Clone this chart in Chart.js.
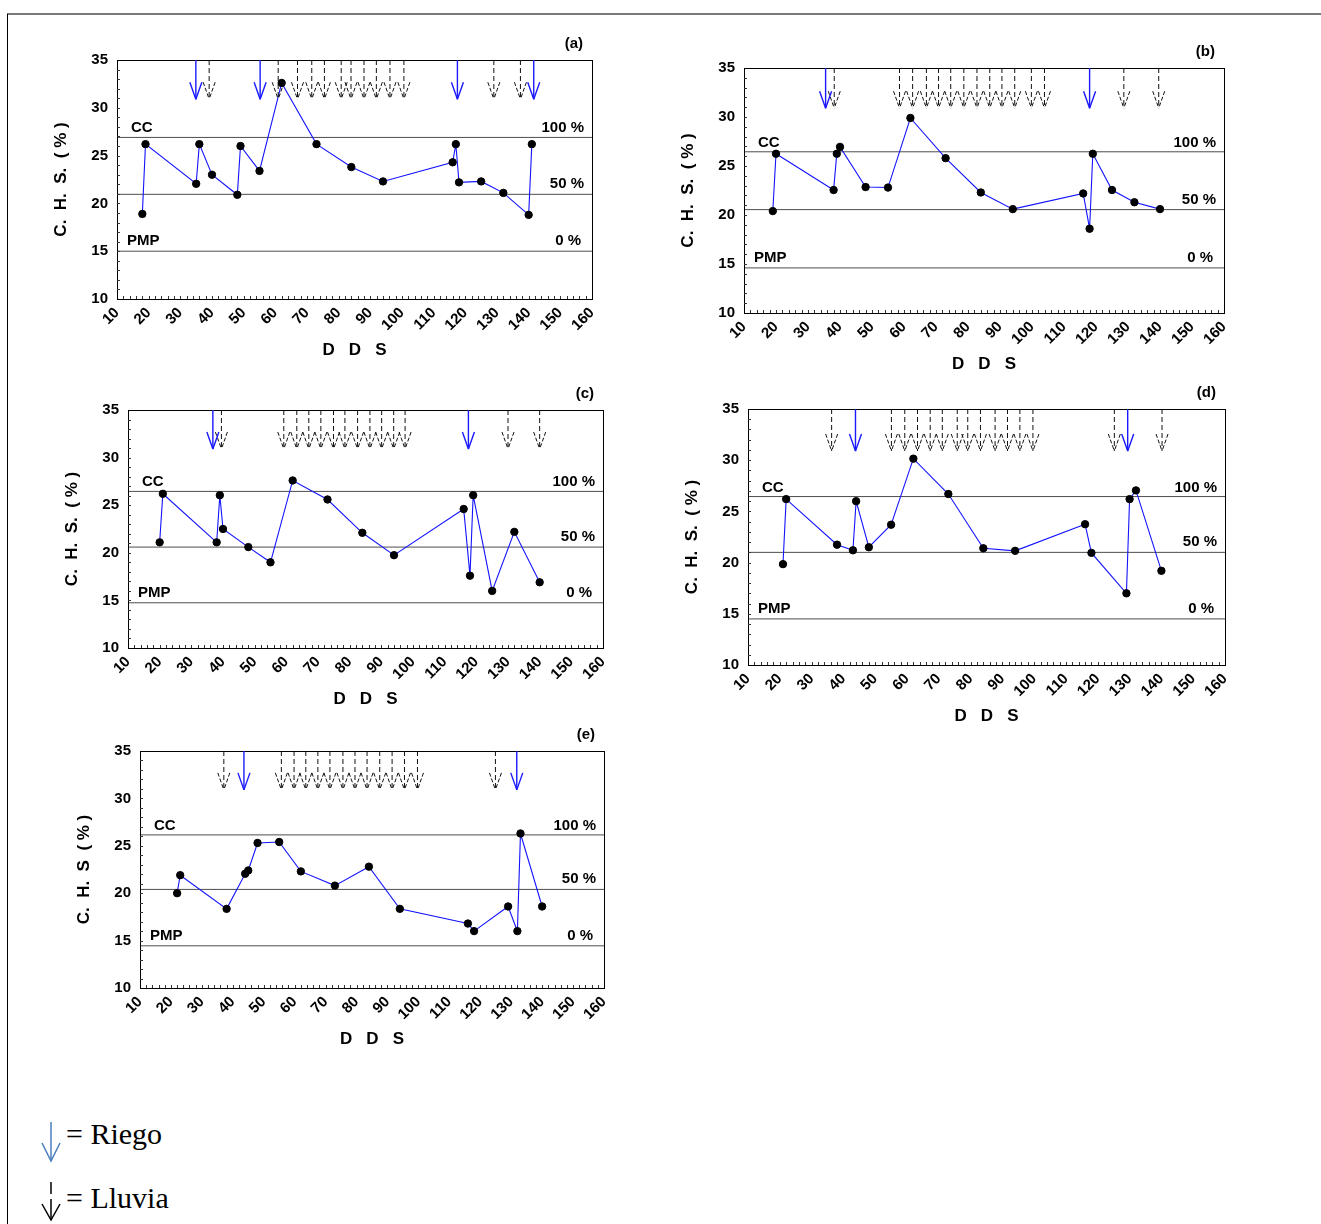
<!DOCTYPE html>
<html>
<head>
<meta charset="utf-8">
<title>C. H. S. (%)</title>
<script src="https://cdn.jsdelivr.net/npm/chart.js@4.4.1/dist/chart.umd.min.js"></script>
<style>
  body { margin: 0; background: #fff; }
  #page { position: relative; width: 1321px; height: 1224px; overflow: hidden; background: #fff; }
  #frameTop { position: absolute; left: 7px; top: 13px; width: 1314px; height: 2px; background: #7a7a7a; }
  #frameLeft { position: absolute; left: 7px; top: 14px; width: 1px; height: 1210px; background: #000; }
  canvas { position: absolute; }
  .key { position: absolute; left: 66px; font-family: "Liberation Serif", "Times New Roman", serif;
         font-size: 30px; line-height: 30px; color: #000; white-space: nowrap; }
  #keyArrows { position: absolute; left: 30px; top: 1110px; }
</style>
</head>
<body>
<div id="page">
  <div id="frameTop"></div>
  <div id="frameLeft"></div>
  <svg id="keyArrows" width="40" height="114">
    <g stroke="#4a7ebb" stroke-width="1.5" fill="none">
      <line x1="21" y1="12" x2="21" y2="51"/>
      <polyline points="12,33 21,51 30,33"/>
    </g>
    <g stroke="#000" stroke-width="1.5" fill="none">
      <line x1="21" y1="72" x2="21" y2="84"/>
      <line x1="21" y1="89" x2="21" y2="110"/>
      <polyline points="12,94 21,110 30,94"/>
    </g>
  </svg>
  <div class="key" style="top:1119px">= Riego</div>
  <div class="key" style="top:1183px">= Lluvia</div>
</div>
<script>
// axes
const xTickValues = [10, 20, 30, 40, 50, 60, 70, 80, 90, 100, 110, 120, 130, 140, 150, 160];
const yTickValues = [10, 15, 20, 25, 30, 35];

// (a)
const daysA = [18, 19, 35, 36, 40, 48, 49, 55, 62, 73, 84, 94, 116, 117, 118, 125, 132, 140, 141];
const chsA = [18.9, 26.2, 22.05, 26.2, 23.0, 20.9, 26.0, 23.4, 32.6, 26.2, 23.8, 22.3, 24.3, 26.2, 22.2, 22.3, 21.1, 18.8, 26.2];
const riegoA = [34.9, 55.2, 117.5, 141.6];
const lluviaA = [39.1, 60.9, 67.0, 71.5, 75.5, 80.8, 83.9, 88.0, 91.9, 96.2, 100.6, 129.0, 137.4];
const levelsA = [26.9, 20.95, 15.0];

// (b)
const daysB = [19, 20, 38, 39, 40, 48, 55, 62, 73, 84, 94, 116, 118, 119, 125, 132, 140];
const chsB = [20.4, 26.25, 22.55, 26.25, 26.95, 22.85, 22.8, 29.9, 25.8, 22.3, 20.6, 22.2, 18.6, 26.25, 22.55, 21.3, 20.6];
const riegoB = [35.5, 118.0];
const lluviaB = [38.2, 58.6, 62.7, 67.0, 70.8, 74.6, 78.7, 82.8, 86.8, 90.6, 94.6, 99.8, 103.9, 128.7, 139.6];
const levelsB = [26.45, 20.55, 14.6];

// (c)
const daysC = [20, 21, 38, 39, 40, 48, 55, 62, 73, 84, 94, 116, 118, 119, 125, 132, 140];
const chsC = [21.1, 26.2, 21.1, 26.05, 22.5, 20.6, 19.0, 27.6, 25.6, 22.1, 19.75, 24.6, 17.6, 26.05, 16.0, 22.2, 16.9];
const riegoC = [36.8, 117.5];
const lluviaC = [39.5, 59.2, 63.3, 67.1, 70.9, 74.9, 78.5, 82.5, 86.4, 90.1, 93.9, 97.5, 130.0, 140.0];
const levelsC = [26.45, 20.6, 14.75];

// (d)
const daysD = [21, 22, 38, 43, 44, 48, 55, 62, 73, 84, 94, 116, 118, 129, 130, 132, 140];
const chsD = [19.85, 26.2, 21.75, 21.2, 26.0, 21.5, 23.7, 30.15, 26.7, 21.4, 21.15, 23.75, 20.95, 17.0, 26.2, 27.05, 19.2];
const riegoD = [43.8, 129.4];
const lluviaD = [36.3, 55.1, 59.3, 63.3, 67.3, 71.1, 75.8, 79.1, 83.1, 87.7, 91.6, 95.5, 99.6, 125.2, 140.2];
const levelsD = [26.45, 21.0, 14.5];

// (e)
const daysE = [22, 23, 38, 44, 45, 48, 55, 62, 73, 84, 94, 116, 118, 129, 132, 133, 140];
const chsE = [20.0, 21.9, 18.35, 22.05, 22.4, 25.3, 25.4, 22.3, 20.8, 22.8, 18.35, 16.8, 16.0, 18.6, 16.0, 26.3, 18.6];
const riegoE = [43.6, 131.8];
const lluviaE = [37.1, 55.7, 59.8, 63.6, 67.5, 71.4, 75.6, 79.5, 83.4, 87.5, 91.5, 95.5, 99.7, 124.9];
const levelsE = [26.15, 20.4, 14.45];

const FONT = '"Liberation Sans", Arial, sans-serif';
const ML = 80, MT = 30, MR = 15, MB = 75;
const ARROW_TIP = 30.9;

const panels = [
  { tag: 'a', rect: [117, 60, 592, 299], days: daysA, chs: chsA, riego: riegoA, lluvia: lluviaA, levels: levelsA, ytitle: 'C.  H.  S.  ( % )' },
  { tag: 'b', rect: [744, 68, 1224, 313], days: daysB, chs: chsB, riego: riegoB, lluvia: lluviaB, levels: levelsB, ytitle: 'C.  H.  S.  ( % )' },
  { tag: 'c', rect: [128, 410, 603, 648], days: daysC, chs: chsC, riego: riegoC, lluvia: lluviaC, levels: levelsC, ytitle: 'C.  H.  S.  ( % )' },
  { tag: 'd', rect: [748, 409, 1225, 665], days: daysD, chs: chsD, riego: riegoD, lluvia: lluviaD, levels: levelsD, ytitle: 'C.  H.  S.  ( % )' },
  { tag: 'e', rect: [140, 751, 604, 988], days: daysE, chs: chsE, riego: riegoE, lluvia: lluviaE, levels: levelsE, ytitle: 'C.  H.  S  ( % )' }
];

function arrow(ctx, x, top, tip, dashed) {
  ctx.save();
  ctx.lineWidth = dashed ? 1 : 1.4;
  ctx.strokeStyle = dashed ? '#111' : '#1a1aff';
  ctx.setLineDash(dashed ? [5, 3] : []);
  ctx.beginPath();
  ctx.moveTo(x, top);
  ctx.lineTo(x, tip);
  ctx.stroke();
  ctx.setLineDash(dashed ? [4, 2] : []);
  ctx.beginPath();
  ctx.moveTo(x - 6, tip - 17);
  ctx.lineTo(x, tip);
  ctx.moveTo(x + 6, tip - 17);
  ctx.lineTo(x, tip);
  ctx.stroke();
  ctx.restore();
}

function decor(p) {
  return {
    id: 'decor' + p.tag,
    afterDatasetsDraw(chart) {
      const ctx = chart.ctx, a = chart.chartArea;
      const xs = chart.scales.x, ys = chart.scales.y;
      ctx.save();
      // box
      ctx.strokeStyle = '#000';
      ctx.lineWidth = 1;
      ctx.strokeRect(Math.round(a.left) + 0.5, Math.round(a.top) + 0.5,
        Math.round(a.right - a.left), Math.round(a.bottom - a.top));
      // minor ticks
      ctx.strokeStyle = '#333';
      ctx.beginPath();
      for (let v = 11; v < 35; v++) {
        const y = Math.round(ys.getPixelForValue(v)) + 0.5;
        ctx.moveTo(a.left, y); ctx.lineTo(a.left + 3, y);
      }
      for (let v = 12; v < 160; v += 2) {
        const x = Math.round(xs.getPixelForValue(v)) + 0.5;
        ctx.moveTo(x, a.bottom); ctx.lineTo(x, a.bottom - 3);
      }
      ctx.stroke();
      // arrows
      const tip = ys.getPixelForValue(ARROW_TIP);
      p.lluvia.forEach(d => arrow(ctx, xs.getPixelForValue(d), a.top, tip, true));
      p.riego.forEach(d => arrow(ctx, xs.getPixelForValue(d), a.top, tip, false));
      // texts
      const yCC = ys.getPixelForValue(p.levels[0]);
      const yMid = ys.getPixelForValue(p.levels[1]);
      const yPMP = ys.getPixelForValue(p.levels[2]);
      ctx.fillStyle = '#000';
      ctx.font = 'bold 15px ' + FONT;
      ctx.textBaseline = 'middle';
      ctx.textAlign = 'right';
      ctx.fillText('(' + p.tag + ')', a.right - 9, a.top - 16);
      ctx.textBaseline = 'alphabetic';
      ctx.fillText('100 %', a.right - 8, yCC - 5);
      ctx.fillText('50 %', a.right - 8, yMid - 6);
      ctx.fillText('0 %', a.right - 11, yPMP - 6);
      ctx.textAlign = 'left';
      ctx.fillText('CC', a.left + 14, yCC - 5);
      ctx.fillText('PMP', a.left + 10, yPMP - 6);
      // axis titles
      ctx.font = 'bold 17px ' + FONT;
      ctx.textAlign = 'center';
      ctx.textBaseline = 'middle';
      ctx.fillText('D   D   S', (a.left + a.right) / 2, a.bottom + 51);
      ctx.translate(a.left - 56, (a.top + a.bottom) / 2);
      ctx.rotate(-Math.PI / 2);
      ctx.fillText(p.ytitle, 0, 0);
      ctx.restore();
    }
  };
}

function build(p) {
  const [L, T, R, B] = p.rect;
  const w = R - L + ML + MR, h = B - T + MT + MB;
  const cv = document.createElement('canvas');
  cv.width = w; cv.height = h;
  cv.style.left = (L - ML) + 'px';
  cv.style.top = (T - MT) + 'px';
  cv.style.width = w + 'px';
  cv.style.height = h + 'px';
  document.getElementById('page').appendChild(cv);

  const tickFont = { family: FONT, size: 15, weight: 'bold' };
  const datasets = [{
    data: p.days.map((d, i) => ({ x: d, y: p.chs[i] })),
    showLine: true,
    borderColor: '#1414ff',
    borderWidth: 1.1,
    pointRadius: 3.7,
    pointBackgroundColor: '#000',
    pointBorderColor: '#000',
    pointBorderWidth: 1
  }];
  p.levels.forEach(v => datasets.push({
    data: [{ x: 10, y: v }, { x: 160, y: v }],
    showLine: true,
    borderColor: '#4d4d4d',
    borderWidth: 1,
    pointRadius: 0
  }));

  new Chart(cv, {
    type: 'scatter',
    data: { datasets: datasets },
    options: {
      responsive: false,
      animation: false,
      devicePixelRatio: 1,
      events: [],
      layout: { padding: { top: MT, right: MR, left: 0, bottom: 0 } },
      plugins: { legend: { display: false }, tooltip: { enabled: false } },
      scales: {
        x: {
          type: 'linear', min: 10, max: 160,
          grid: { display: false, drawTicks: false },
          border: { display: false },
          afterBuildTicks: s => { s.ticks = xTickValues.map(v => ({ value: v })); },
          afterFit: s => { s.height = MB; s.paddingLeft = 0; s.paddingRight = 0; },
          ticks: { autoSkip: false, minRotation: 45, maxRotation: 45, padding: 5, color: '#000', font: tickFont }
        },
        y: {
          type: 'linear', min: 10, max: 35,
          grid: { display: false, drawTicks: false },
          border: { display: false },
          afterBuildTicks: s => { s.ticks = yTickValues.map(v => ({ value: v })); },
          afterFit: s => { s.width = ML; s.paddingTop = 0; s.paddingBottom = 0; },
          ticks: { padding: 9, color: '#000', font: tickFont }
        }
      }
    },
    plugins: [decor(p)]
  });
}

panels.forEach(build);
</script>
</body>
</html>
